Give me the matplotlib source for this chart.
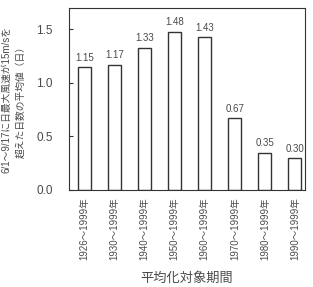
import matplotlib
matplotlib.use("Agg")
import matplotlib.pyplot as plt

plt.rcParams['font.family'] = ['Liberation Sans', 'Noto Sans CJK JP', 'DejaVu Sans']

periods = ["1926～1999年", "1930～1999年", "1940～1999年", "1950～1999年",
           "1960～1999年", "1970～1999年", "1980～1999年", "1990～1999年"]
values = [1.15, 1.17, 1.33, 1.48, 1.43, 0.67, 0.35, 0.30]
value_labels = ["1.15", "1.17", "1.33", "1.48", "1.43", "0.67", "0.35", "0.30"]

txt_col = "#4a4a4a"

fig = plt.figure(figsize=(3.13, 2.87), dpi=100)
ax = fig.add_axes([0.222, 0.338, 0.752, 0.634])

x = list(range(len(values)))
ax.bar(x, values, width=0.43, color="white", edgecolor="#333333", linewidth=1.0)

for xi, v, lab in zip(x, values, value_labels):
    ax.text(xi, v + 0.04, lab, ha="center", va="bottom", fontsize=7, color=txt_col)

ax.set_xlim(-0.5, 7.33)
ax.set_ylim(0, 1.70)
ax.set_yticks([0.0, 0.5, 1.0, 1.5])
ax.set_yticklabels(["0.0", "0.5", "1.0", "1.5"], fontsize=8.5, color=txt_col)
ax.set_xticks(x)
ax.set_xticklabels(periods, rotation=90, fontsize=6.9, color=txt_col)
ax.tick_params(axis="y", direction="in", length=3, color="#333333", pad=12)
ax.tick_params(axis="x", length=0, pad=5)
for s in ax.spines.values():
    s.set_color("#333333")
    s.set_linewidth(0.8)

ax.set_ylabel("6/1～9/17に日最大風速が15m/sを\n超えた日数の平均値（日）",
              fontsize=7, color=txt_col, labelpad=8, linespacing=1.5)
fig.text(0.598, 0.031, "平均化対象期間", fontsize=9.5, color=txt_col,
         ha="center", va="center")

fig.savefig("out.png", dpi=100)
